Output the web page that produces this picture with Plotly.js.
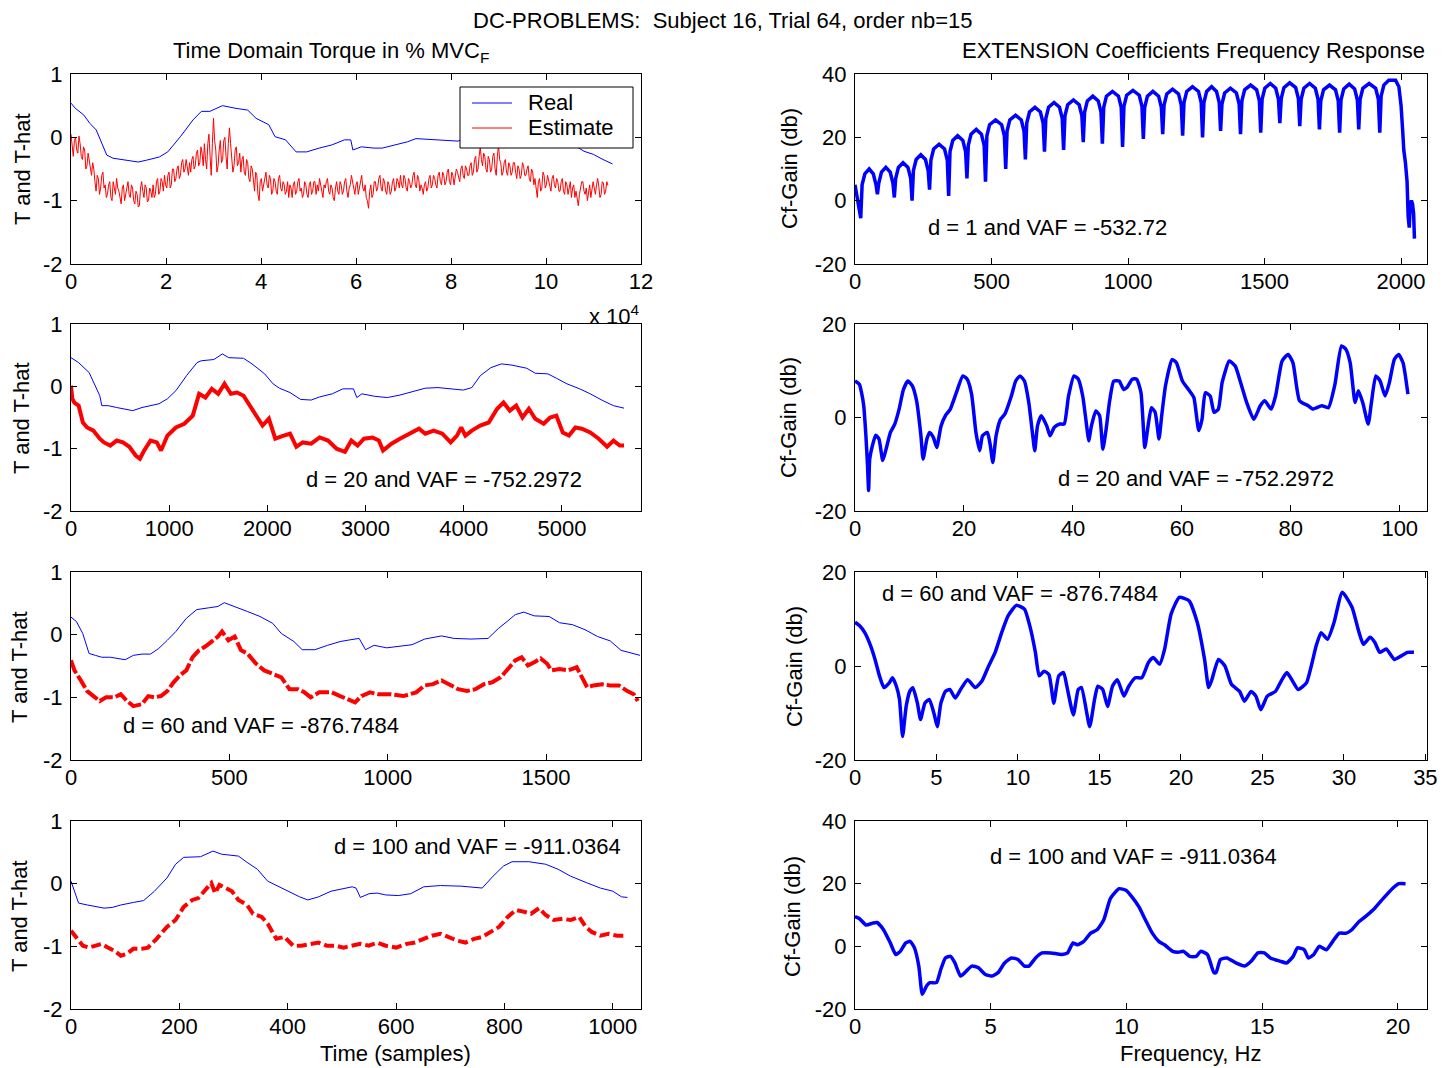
<!DOCTYPE html>
<html>
<head>
<meta charset="utf-8">
<script src="https://cdn.plot.ly/plotly-3.0.1.min.js"></script>
<style>
  html, body { margin: 0; padding: 0; background: #ffffff; }
  #chart { width: 1453px; height: 1068px; }
</style>
</head>
<body>
<div id="chart"></div>
<script>
// ---------------- Time-domain torque (left column) ----------------
// d = 1 : full-rate record
const realX1 = [0,886,2657,3986,5314,6200,7528,8857,11514,14171,15943,18600,20371,23028,25685,27457,29228,31885,34542,37199,38971,41628,42957,45171,47385,49599,52256,54913,57570,58899,59342,61113,63770,65542,68199,70856,72627,75284,78827,81484,82800,84400,86600,88800,90900,94000,95700,98300,100000,102300,104900,106500,108000,110000,112000,114000];
const realY1 = [0.54,0.46,0.355,0.22,0.116,-0.04,-0.28,-0.33,-0.36,-0.39,-0.36,-0.31,-0.23,0.01,0.275,0.41,0.41,0.5,0.46,0.43,0.30,0.2,0.01,-0.04,-0.23,-0.23,-0.17,-0.12,-0.04,-0.04,-0.2,-0.15,-0.17,-0.17,-0.12,-0.07,-0.02,-0.03,-0.04,-0.06,-0.02,0.17,0.30,0.36,0.34,0.29,0.21,0.2,0.13,0.04,-0.04,-0.15,-0.22,-0.27,-0.35,-0.42];
// estimate sampled every 240 samples from 0
const estStep1 = 240;
const estY1 = [
  0.05,-0.15,-0.3,-0.05,0.0,-0.2,-0.25,0.02,-0.1,-0.3,-0.35,
  -0.15,-0.2,-0.5,-0.45,-0.25,-0.35,-0.5,-0.6,-0.4,-0.5,-0.7,
  -0.85,-0.6,-0.65,-0.9,-0.8,-0.6,-0.55,-0.8,-0.75,-0.95,
  -0.9,-0.75,-0.7,-0.95,-1.0,-0.7,-0.8,-0.9,-0.65,-0.8,
  -0.85,-0.95,-1.05,-0.8,-0.75,-1.0,-0.9,-0.75,-0.7,-0.9,
  -0.95,-0.75,-0.8,-1.0,-1.05,-0.85,-0.9,-1.1,-1.08,-0.8,
  -0.7,-0.85,-0.95,-0.75,-0.8,-1.02,-1.0,-0.8,-0.85,-0.95,
  -0.75,-0.95,-0.9,-0.7,-0.65,-0.9,-0.85,-0.65,-0.7,-0.85,
  -0.6,-0.75,-0.8,-0.6,-0.55,-0.8,-0.75,-0.5,-0.5,-0.7,
  -0.65,-0.5,-0.45,-0.65,-0.6,-0.4,-0.35,-0.55,-0.5,-0.35,
  -0.45,-0.6,-0.4,-0.55,-0.35,
  -0.3,-0.5,-0.45,-0.25,-0.2,-0.45,-0.4,-0.15,-0.25,-0.45,
  -0.1,-0.35,-0.5,-0.1,0.05,-0.3,-0.6,-0.1,0.3,-0.05,-0.2,-0.55,
  -0.45,-0.2,-0.05,-0.4,-0.35,-0.05,0.0,-0.3,-0.5,-0.1,
  0.15,-0.1,-0.3,-0.55,-0.45,-0.2,-0.15,-0.45,-0.4,-0.25,
  -0.55,-0.35,-0.3,-0.55,-0.6,-0.35,-0.4,-0.65,-0.7,-0.45,
  -0.5,-0.7,-0.85,-0.55,-0.6,-0.9,-1.0,-0.7,-0.65,-0.85,
  -0.75,-0.6,-0.55,-0.75,-0.8,-0.6,-0.65,-0.9,-0.85,-0.65,
  -0.7,-0.85,-0.9,-0.65,-0.6,-0.8,-0.85,-0.7,-0.75,-0.9,
  -0.85,-0.7,-0.95,-0.75,-0.8,
  -0.95,-0.75,-0.7,-0.9,-0.85,-0.7,-0.65,-0.85,-0.8,-0.95,
  -0.9,-0.7,-0.75,-0.9,-0.95,-0.75,-0.7,-0.9,-0.85,-0.7,
  -0.7,-0.9,-0.75,-0.85,-0.65,
  -0.75,-0.85,-0.95,-0.75,-0.8,-0.7,-0.65,-0.85,-0.9,-0.75,
  -0.8,-0.95,-1.0,-0.8,-0.7,-0.85,-0.9,-0.7,-0.75,-0.9,
  -0.85,-0.7,-0.65,-0.85,-0.95,-0.8,-0.75,-0.6,-0.7,-0.85,
  -0.9,-0.75,-0.7,-0.9,-0.8,-0.65,-0.6,-0.8,-0.85,-0.75,
  -0.95,-1.0,-1.12,-0.85,-0.75,-0.95,-0.9,-0.7,-0.7,-0.85,
  -0.8,-0.65,-0.6,-0.8,-0.85,-0.65,-0.7,-0.85,-0.9,-0.7,
  -0.75,-0.9,-0.85,-0.7,-0.65,-0.85,-0.8,-0.65,-0.7,-0.8,
  -0.6,-0.75,-0.8,-0.6,-0.65,-0.8,-0.85,-0.65,-0.7,-0.8,
  -0.75,-0.6,-0.55,-0.75,-0.8,-0.6,-0.65,-0.85,-0.75,-0.8,
  -0.9,-0.75,-0.7,-0.85,-0.8,-0.65,-0.6,-0.8,-0.75,-0.6,
  -0.65,-0.75,-0.8,-0.6,-0.55,-0.7,-0.75,-0.55,-0.6,-0.75,
  -0.7,-0.55,-0.5,-0.7,-0.75,-0.55,-0.6,-0.75,-0.65,-0.5,
  -0.55,-0.65,-0.7,-0.5,-0.45,-0.6,-0.65,-0.45,-0.5,-0.6,
  -0.6,-0.45,-0.4,-0.6,-0.55,-0.35,-0.3,-0.55,-0.5,-0.3,
  -0.15,-0.35,-0.45,-0.25,-0.3,-0.5,-0.55,-0.3,-0.35,-0.55,
  -0.5,-0.3,-0.25,-0.5,-0.6,-0.3,-0.12,-0.35,-0.4,-0.6,
  -0.55,-0.4,-0.35,-0.55,-0.6,-0.4,-0.45,-0.6,-0.55,-0.4,
  -0.4,-0.55,-0.65,-0.45,-0.5,-0.65,-0.6,-0.4,-0.45,-0.6,
  -0.6,-0.5,-0.45,-0.65,-0.7,-0.5,-0.55,-0.75,-0.65,-0.8,
  -0.95,-0.7,-0.65,-0.85,-0.8,-0.55,-0.6,-0.8,-0.75,-0.6,
  -0.7,-0.8,-0.85,-0.65,-0.6,-0.75,-0.8,-0.65,-0.7,-0.85,
  -0.85,-0.7,-0.65,-0.85,-0.9,-0.7,-0.75,-0.9,-0.8,-0.7,
  -0.95,-0.8,-0.75,-0.95,-0.85,-0.95,-1.08,-0.9,-0.8,-0.7,
  -0.7,-0.85,-0.9,-0.8,-1.0,-0.85,-0.75,-0.95,-0.85,-0.7,
  -0.8,-0.9,-0.75,-0.65,-0.78,-0.95,-0.9,-0.7,-0.72,-0.9,-0.85,-0.7,-0.76];

// d = 20
const realX2 = [0,78,185,293,314,379,465,551,629,723,810,896,982,1068,1176,1283,1326,1455,1542,1606,1757,1843,1972,2058,2123,2231,2338,2446,2532,2661,2769,2876,2911,2963,3092,3221,3350,3479,3608,3738,3867,3996,4082,4168,4276,4384,4491,4642,4728,4857,4943,5051,5180,5288,5417,5525,5632];
const realY2 = [0.46,0.38,0.22,-0.15,-0.31,-0.31,-0.34,-0.36,-0.39,-0.34,-0.31,-0.28,-0.2,-0.07,0.17,0.38,0.41,0.43,0.52,0.46,0.45,0.36,0.2,0.04,-0.03,-0.1,-0.21,-0.22,-0.17,-0.12,-0.04,-0.04,-0.18,-0.12,-0.16,-0.18,-0.14,-0.09,-0.03,-0.02,-0.04,-0.06,-0.02,0.17,0.30,0.36,0.34,0.29,0.21,0.2,0.13,0.04,-0.04,-0.12,-0.23,-0.31,-0.35];
const estX2 = [0,13,34,78,121,164,228,293,336,400,465,529,594,659,702,745,810,874,917,982,1068,1154,1240,1305,1369,1434,1499,1563,1628,1692,1757,1821,1886,1951,2015,2080,2166,2231,2295,2360,2446,2532,2618,2704,2790,2855,2919,2984,3070,3135,3178,3264,3350,3458,3544,3608,3694,3781,3867,3931,3974,4017,4082,4168,4254,4340,4405,4469,4534,4598,4663,4728,4814,4879,4943,5008,5072,5137,5202,5288,5374,5460,5525,5589,5632];
const estY2 = [0.01,-0.2,-0.26,-0.31,-0.58,-0.66,-0.71,-0.84,-0.9,-0.95,-0.87,-0.9,-0.97,-1.11,-1.16,-1.03,-0.87,-0.9,-1.03,-0.79,-0.66,-0.6,-0.47,-0.12,-0.18,-0.04,-0.12,0.04,-0.12,-0.1,-0.15,-0.31,-0.47,-0.63,-0.52,-0.84,-0.79,-0.76,-0.97,-0.9,-0.92,-0.82,-0.87,-1.0,-1.05,-0.87,-0.95,-0.84,-0.82,-0.87,-1.03,-0.92,-0.84,-0.76,-0.68,-0.76,-0.71,-0.76,-0.9,-0.79,-0.66,-0.79,-0.71,-0.63,-0.58,-0.36,-0.26,-0.39,-0.31,-0.5,-0.36,-0.52,-0.6,-0.5,-0.47,-0.74,-0.79,-0.66,-0.68,-0.74,-0.84,-0.97,-0.87,-0.95,-0.95];

// d = 60
const realX3 = [0,17,37,57,77,97,124,151,171,197,224,251,277,304,331,364,397,437,464,484,517,557,597,637,664,704,730,770,810,850,884,910,930,957,997,1037,1077,1117,1170,1210,1263,1317,1350,1377,1403,1430,1463,1510,1543,1583,1623,1663,1703,1737,1770,1797];
const realY3 = [0.28,0.21,0.02,-0.3,-0.33,-0.36,-0.36,-0.38,-0.4,-0.33,-0.31,-0.31,-0.22,-0.09,0.05,0.26,0.4,0.43,0.45,0.51,0.45,0.37,0.29,0.18,0.02,-0.11,-0.24,-0.24,-0.17,-0.11,-0.08,-0.06,-0.24,-0.17,-0.21,-0.18,-0.16,-0.07,-0.02,-0.06,-0.07,-0.06,0.1,0.21,0.32,0.36,0.3,0.29,0.19,0.16,0.08,-0.03,-0.1,-0.25,-0.3,-0.33];
const estX3 = [0,11,31,51,71,91,111,137,157,177,197,224,244,264,284,304,324,344,364,384,404,424,444,464,477,497,517,537,557,584,610,637,664,690,717,737,757,784,824,850,877,897,917,944,970,1010,1050,1090,1117,1143,1170,1197,1223,1250,1277,1304,1330,1357,1383,1403,1423,1443,1463,1483,1503,1517,1543,1570,1597,1610,1630,1650,1677,1703,1730,1757,1777,1790];
const estY3 = [-0.41,-0.57,-0.73,-0.9,-0.98,-1.06,-1.0,-1.0,-0.95,-1.06,-1.14,-1.11,-0.98,-1.0,-0.98,-0.9,-0.76,-0.65,-0.57,-0.36,-0.25,-0.19,-0.11,-0.03,0.05,-0.09,-0.03,-0.25,-0.3,-0.46,-0.57,-0.63,-0.68,-0.87,-0.87,-0.92,-1.0,-0.92,-0.92,-0.98,-1.03,-1.08,-0.98,-0.92,-0.95,-0.95,-0.98,-0.92,-0.81,-0.79,-0.73,-0.81,-0.87,-0.9,-0.87,-0.79,-0.76,-0.68,-0.52,-0.41,-0.36,-0.49,-0.44,-0.38,-0.46,-0.57,-0.55,-0.57,-0.52,-0.65,-0.84,-0.81,-0.79,-0.81,-0.81,-0.9,-0.95,-1.06];

// d = 100
const realX4 = [0,6,14,30,45,61,76,92,115,134,154,177,193,208,239,262,278,309,325,344,363,379,402,422,437,457,480,499,519,526,534,550,565,581,604,627,651,682,720,759,779,798,814,845,876,899,922,953,977,1000,1016,1027];
const realY4 = [0.04,-0.12,-0.31,-0.34,-0.37,-0.39,-0.38,-0.34,-0.3,-0.27,-0.12,0.09,0.31,0.42,0.43,0.52,0.47,0.44,0.34,0.23,0.04,-0.03,-0.12,-0.21,-0.26,-0.21,-0.12,-0.08,-0.05,-0.07,-0.22,-0.16,-0.15,-0.18,-0.19,-0.16,-0.05,-0.03,-0.04,-0.07,0.12,0.28,0.35,0.35,0.31,0.23,0.12,0.01,-0.07,-0.12,-0.21,-0.22];
const estX4 = [0,10,22,33,45,57,68,80,92,103,115,130,142,158,177,193,208,224,235,247,259,266,274,286,297,309,325,336,352,363,379,394,410,425,441,457,472,488,503,519,534,550,565,581,600,620,635,651,666,682,697,713,728,744,759,775,790,806,821,837,849,864,876,891,907,922,938,950,961,977,992,1008,1023];
const estY4 = [-0.75,-0.85,-0.99,-1.02,-0.99,-0.96,-1.02,-1.07,-1.15,-1.12,-1.04,-1.04,-1.02,-0.88,-0.69,-0.58,-0.37,-0.26,-0.23,-0.1,0.01,-0.15,-0.02,-0.07,-0.12,-0.26,-0.34,-0.48,-0.53,-0.64,-0.88,-0.85,-0.99,-0.99,-0.96,-0.94,-0.99,-0.99,-1.02,-0.99,-0.96,-0.99,-0.94,-0.99,-1.02,-0.96,-0.94,-0.88,-0.83,-0.8,-0.85,-0.91,-0.94,-0.88,-0.85,-0.77,-0.69,-0.53,-0.42,-0.45,-0.48,-0.39,-0.5,-0.58,-0.56,-0.58,-0.53,-0.69,-0.77,-0.83,-0.8,-0.83,-0.83];

// ---------------- Coefficient frequency responses (right column) ----------------
const freq5 = [0,5,10,16,21, 26,36,52,67,77,82, 87,97,113,129,139,144, 149,159,176,194,204,209, 214,224,241,258,268,273, 278,288,308,328,338,343, 348,358,376,395,405,410, 415,425,444,463,473,478, 483,493,515,537,547,552, 557,567,588,609,619,624, 629,639,659,679,689,694, 699,709,729,749,759,764, 769,779,800,821,831,836, 841,851,871,891,901,906, 911,921,943,965,975,980, 985,995,1018,1041,1051,1056, 1061,1071,1091,1112,1122,1127, 1132,1142,1163,1185,1195,1200, 1205,1215,1236,1258,1268,1273, 1278,1288,1306,1324,1334,1339, 1344,1354,1375,1397,1407,1412, 1417,1427,1449,1471,1481,1486, 1491,1501,1521,1541,1551,1556, 1561,1571,1592,1614,1624,1629, 1634,1644,1665,1686,1696,1701, 1706,1716,1738,1760,1770,1775, 1780,1790,1810,1830,1840,1845, 1850,1860,1883,1907,1917,1922, 1927,1937,1955,1980,1992,2000,2006,2010,2016,2022,2026,2030,2034,2038,2042,2046,2049];
const gain5 = [5,2.5,0.5,-3,-5.5, 5,8.5,10,8.5,5,2, 5.5,9,10.5,9,5.5,1, 7,10.5,12,10.5,7,0, 9.5,13,14.5,13,9.5,3.5, 12.8,16.3,17.8,16.3,12.8,1.5, 15.5,19,20.5,19,15.5,7, 17.5,21,22.5,21,17.5,6, 20.5,24,25.5,24,20.5,10, 22,25.5,27,25.5,22,13, 24.5,28,29.5,28,24.5,15.5, 26,29.5,31,29.5,26,16, 26.8,30.3,31.8,30.3,26.8,18.5, 28,31.5,33,31.5,28,18, 29.5,33,34.5,33,29.5,17, 29.8,33.3,34.8,33.3,29.8,19.5, 29.5,33,34.5,33,29.5,21, 30.2,33.7,35.2,33.7,30.2,20.5, 31,34.5,36,34.5,31,20, 31,34.5,36,34.5,31,22, 30.5,34,35.5,34,30.5,21, 31.5,35,36.5,35,31.5,21.5, 32,35.5,37,35.5,32,24.5, 32.2,35.7,37.2,35.7,32.2,23.5, 32,35.5,37,35.5,32,22.5, 31.5,35,36.5,35,31.5,21.5, 31.8,35.3,36.8,35.3,31.8,22.5, 32,35.5,37,35.5,32,21.5, 33,36.5,38,38,36,30,22,16,12,6,-5,-8.5,-1,0,-1,-4,-12];

const freq6 = [0,0.8,1.2,1.6,2.0,2.3,2.5,2.7,3.2,3.8,4.4,5.1,5.7,6.5,7.3,8.1,8.9,9.7,10.5,11.3,12.1,12.5,13.2,13.7,14.4,15,15.8,16.6,17.5,18.6,19.8,20.6,21.4,22.2,22.9,23.4,24.3,24.8,25.3,25.9,26.7,27.5,28.7,29.5,30.3,31.1,31.9,32.6,33,33.5,34.2,35.2,35.8,36.6,37.6,38.4,39.2,40.2,41,41.8,42.6,42.9,43.4,44.2,44.9,45.5,46.1,46.7,47.5,48.5,49.3,49.9,50.9,51.7,52.5,53.2,53.8,54.4,55.1,55.8,56.3,57,58.2,59,60.1,61.4,62.2,63.1,63.7,64.3,65.2,65.9,66.7,67.4,68.7,69.8,70.7,71.9,73.2,74.4,75.2,76.4,77.2,78.4,79.5,80.4,81.6,83.2,84,85.7,86.9,88.1,89.3,90.1,90.9,91.8,92.4,93.2,94.2,94.8,95.6,96.4,97.3,98.1,99,99.8,100.6,101.5];
const gain6 = [7.8,7.1,5.3,2.5,-3.9,-10.3,-15.6,-8.9,-6,-3.8,-4.6,-9.2,-6.8,-3.2,-1.4,1.8,6,7.8,6.8,3.6,-3.9,-8.9,-4.6,-3.2,-4.3,-6.4,-1.8,0.4,1.8,5.3,8.9,8.2,5,-3.2,-7.1,-3.9,-3.2,-5.7,-9.6,-3.9,-0.4,0.7,4.6,7.8,8.9,7.8,3.2,-3.6,-7.1,-1.8,0.4,-1.8,-3.9,-2.1,-1.4,-1.4,4.6,8.9,8.2,4.6,-2.5,-5,-1.8,1.4,0.4,-6.8,-2.5,3.2,7.8,7.8,6,6.4,8.2,8.2,5.3,-6.4,-1.8,2.1,1.1,-4.6,0.4,6.8,12.4,11.7,7.8,5.7,4.3,-2.8,-0.4,5.3,4.6,1.1,1.8,7.5,12.1,11,7.8,3.2,-0.4,2.5,3.6,1.8,4.6,12.1,13.5,11.7,3.6,2.5,1.8,2.5,2.1,7.1,15.3,14.6,11.7,3.2,5.7,3.2,-1.4,3.2,8.9,7.8,4.6,7.5,12.4,13.5,11.7,5];

const freq7 = [0,0.27,0.6,0.96,1.23,1.5,1.78,2.1,2.3,2.54,2.73,2.92,3.14,3.36,3.55,3.83,4.02,4.29,4.56,4.84,5.05,5.27,5.55,5.82,6.15,6.48,6.91,7.38,7.79,8.2,8.6,9.0,9.4,9.9,10.4,10.7,11.07,11.3,11.6,11.9,12.2,12.5,12.8,13.0,13.4,13.7,13.9,14.4,14.7,14.9,15.2,15.5,15.8,16.1,16.5,16.8,17.2,17.6,18,18.3,18.7,19,19.4,19.9,20.5,21.0,21.45,21.7,21.9,22.3,22.7,23.1,23.6,23.9,24.3,24.6,24.9,25.3,25.8,26.2,26.5,26.8,27.2,27.7,28.3,28.6,29.0,29.4,29.9,30.5,30.9,31.2,31.6,31.9,32.2,32.6,33.1,33.5,33.9,34.3];
const gain7 = [9.3,8.6,7.1,4.3,1.4,-2.1,-4.6,-3.6,-2.5,-4.3,-7.1,-15,-8.6,-5.4,-4.6,-7.9,-11.4,-7.9,-7.1,-10,-12.9,-7.9,-5.4,-5,-6.8,-5,-2.9,-4.6,-3.2,0,2.9,7.1,10.7,12.9,12.1,8.9,2.9,-2.1,-1.1,-1.8,-7.9,-2.1,-1.4,-4.3,-10.4,-5,-4.6,-12.9,-7.1,-4.3,-5,-8.6,-4.3,-2.9,-6.4,-4.3,-2.5,-2.5,0.7,1.8,0.4,3.6,11.1,14.6,13.9,9.3,1.4,-4.6,-2.9,1.4,0,-3.9,-5.4,-7.5,-5.4,-6.4,-9.3,-6.4,-5.4,-2.9,-1.4,-2.9,-5,-3.6,4.3,7.1,5.7,9.3,15.7,12.5,7.5,4.6,6.1,5,2.9,3.6,1.4,2.1,2.9,2.9];

const freq8 = [0,0.16,0.41,0.65,0.81,1.05,1.3,1.5,1.67,1.87,2.03,2.19,2.35,2.48,2.64,2.76,3.0,3.16,3.33,3.52,3.68,3.89,4.1,4.3,4.54,4.79,5.03,5.27,5.51,5.76,6.0,6.24,6.41,6.65,6.89,7.22,7.62,7.83,8.03,8.19,8.43,8.68,8.92,9.16,9.41,9.73,9.98,10.2,10.46,10.7,10.95,11.19,11.4,11.7,11.9,12.1,12.33,12.57,12.73,12.98,13.22,13.3,13.46,13.7,14.03,14.35,14.6,14.84,15.08,15.3,15.65,15.9,16.14,16.3,16.55,16.7,16.9,17.1,17.36,17.6,17.84,18.1,18.3,18.57,18.8,19.14,19.46,19.79,20.03,20.28];
const gain8 = [9.5,8.9,6.8,7.4,7.6,5.3,1.1,-2.6,-1.6,1.1,1.6,-0.5,-6.3,-15.3,-12.6,-11.6,-11.6,-7.4,-3.7,-3.2,-5.3,-9.5,-7.9,-6.3,-6.8,-8.9,-9.5,-8.4,-5.3,-3.7,-4.2,-6.3,-6.3,-3.7,-2.1,-2.1,-2.6,-2.1,1.1,0.5,1.6,4.2,5.3,8.4,15.3,18.4,17.9,15.8,12.6,8.4,4.2,1.6,0.5,-1.6,-1.9,-1.6,-3.2,-3.2,-1.6,-2.6,-8.4,-8.4,-4.2,-3.7,-5.3,-6.3,-4.7,-2.1,-2.1,-3.7,-4.7,-5.3,-3.2,-0.5,-1.1,-3.7,-2.6,0,-1.1,1.6,4.2,4.2,5.3,7.9,9.5,12.1,15.3,18.4,20,20];

// ---------------- Tick marks and labels ----------------
const torqueTicks = [-2, -1, 0, 1];
const torqueLabels = ["-2", "-1", "0", "1"];
const xTicks1 = [0, 20000, 40000, 60000, 80000, 100000, 120000];
const xLabels1 = ["0", "2", "4", "6", "8", "10", "12"];
const xTicks2 = [0, 1000, 2000, 3000, 4000, 5000];
const xLabels2 = ["0", "1000", "2000", "3000", "4000", "5000"];
const xTicks3 = [0, 500, 1000, 1500];
const xLabels3 = ["0", "500", "1000", "1500"];
const xTicks4 = [0, 200, 400, 600, 800, 1000];
const xLabels4 = ["0", "200", "400", "600", "800", "1000"];
const fTicks5 = [0, 500, 1000, 1500, 2000];
const fLabels5 = ["0", "500", "1000", "1500", "2000"];
const fTicks6 = [0, 20, 40, 60, 80, 100];
const fLabels6 = ["0", "20", "40", "60", "80", "100"];
const fTicks7 = [0, 5, 10, 15, 20, 25, 30, 35];
const fLabels7 = ["0", "5", "10", "15", "20", "25", "30", "35"];
const fTicks8 = [0, 5, 10, 15, 20];
const fLabels8 = ["0", "5", "10", "15", "20"];
const gTicks40 = [-20, 0, 20, 40];
const gLabels40 = ["-20", "0", "20", "40"];
const gTicks20 = [-20, 0, 20];
const gLabels20 = ["-20", "0", "20"];

// ---------------- Figure geometry ----------------
const W = 1453, H = 1068;
const FONT = "'Liberation Sans', Arial, Helvetica, sans-serif";
const FS = 22;
const px = x => x / W;
const py = y => 1 - y / H;

const colL = [px(71), px(641)];
const colR = [px(855), px(1427)];
const rows = [[py(264), py(74)], [py(511), py(324)], [py(760), py(572)], [py(1009), py(821)]];

function baseAxis(domain, anchor, range, vals, text) {
  return {
    domain: domain, anchor: anchor, range: range,
    tickmode: 'array', tickvals: vals, ticktext: text,
    showline: true, linecolor: '#000', linewidth: 1, mirror: 'ticks',
    ticks: 'inside', ticklen: 6, tickwidth: 1, tickcolor: '#000',
    showgrid: false, zeroline: false,
    tickfont: { family: FONT, size: FS, color: '#000' }, fixedrange: true
  };
}
function axisX(domain, anchor, range, vals, text) {
  const a = baseAxis(domain, anchor, range, vals, text);
  a.ticklabelstandoff = -2;
  return a;
}
function axisY(domain, anchor, range, vals, text) {
  const a = baseAxis(domain, anchor, range, vals, text);
  a.ticklabelstandoff = 3;
  return a;
}

const BLUE = '#0000ff', RED = '#ff0000';
const smooth = { color: BLUE, width: 3.5, shape: 'spline', smoothing: 0.5 };

const realTrace = { x: realX1, y: realY1, xaxis: 'x', yaxis: 'y', mode: 'lines', name: 'Real',
  line: { color: BLUE, width: 1 }, showlegend: false };
const estTrace = { x0: 0, dx: estStep1, y: estY1, xaxis: 'x', yaxis: 'y', mode: 'lines', name: 'Estimate',
  line: { color: RED, width: 1 }, showlegend: false };

const traces = [
  realTrace, estTrace,

  { x: realX2, y: realY2, xaxis: 'x2', yaxis: 'y2', mode: 'lines', line: { color: BLUE, width: 1 }, showlegend: false },
  { x: estX2, y: estY2, xaxis: 'x2', yaxis: 'y2', mode: 'lines', line: { color: RED, width: 4 }, showlegend: false },

  { x: realX3, y: realY3, xaxis: 'x3', yaxis: 'y3', mode: 'lines', line: { color: BLUE, width: 1 }, showlegend: false },
  { x: estX3, y: estY3, xaxis: 'x3', yaxis: 'y3', mode: 'lines', line: { color: RED, width: 4, dash: '14px,3px' }, showlegend: false },

  { x: realX4, y: realY4, xaxis: 'x4', yaxis: 'y4', mode: 'lines', line: { color: BLUE, width: 1 }, showlegend: false },
  { x: estX4, y: estY4, xaxis: 'x4', yaxis: 'y4', mode: 'lines', line: { color: RED, width: 4, dash: '10px,4px' }, showlegend: false },

  { x: freq5, y: gain5, xaxis: 'x5', yaxis: 'y5', mode: 'lines', line: { color: BLUE, width: 3.5 }, showlegend: false },
  { x: freq6, y: gain6, xaxis: 'x6', yaxis: 'y6', mode: 'lines', line: smooth, showlegend: false },
  { x: freq7, y: gain7, xaxis: 'x7', yaxis: 'y7', mode: 'lines', line: smooth, showlegend: false },
  { x: freq8, y: gain8, xaxis: 'x8', yaxis: 'y8', mode: 'lines', line: smooth, showlegend: false }
];

function note(text, x, y, extra) {
  return Object.assign({
    text: text, xref: 'paper', yref: 'paper', x: px(x), y: py(y),
    xanchor: 'center', yanchor: 'middle', showarrow: false,
    font: { family: FONT, size: FS, color: '#000' }
  }, extra || {});
}
function sideLabel(text, x, y) {
  return note(text, x, y, { textangle: -90 });
}

// Boxed key in the top-left panel (MATLAB-style legend)
const legendBox = { x0: 460, y0: 87, x1: 633, y1: 148 };
const legendRows = [
  { trace: realTrace, y: 103 },
  { trace: estTrace, y: 128 }
];
const shapes = [
  { type: 'rect', xref: 'paper', yref: 'paper', layer: 'above',
    x0: px(legendBox.x0), x1: px(legendBox.x1), y0: py(legendBox.y1), y1: py(legendBox.y0),
    fillcolor: '#ffffff', line: { color: '#000', width: 1 } }
];
legendRows.forEach(r => {
  shapes.push({ type: 'line', xref: 'paper', yref: 'paper', layer: 'above',
    x0: px(472), x1: px(512), y0: py(r.y), y1: py(r.y),
    line: { color: r.trace.line.color, width: r.trace.line.width } });
});

const annotations = [
  note('DC-PROBLEMS:\u00a0 Subject 16, Trial 64, order nb=15', 723, 20),
  note('Time Domain Torque in % MVC<sub>F</sub>', 331, 52),
  note('EXTENSION Coefficients Frequency Response', 1193, 50),
  note('x 10<sup>4</sup>', 614, 331, { yanchor: 'bottom' }),

  sideLabel('T and T-hat', 22, 169),
  sideLabel('T and T-hat', 22, 418),
  sideLabel('T and T-hat', 19, 667),
  sideLabel('T and T-hat', 19, 916),
  sideLabel('Cf-Gain (db)', 789, 169),
  sideLabel('Cf-Gain (db)', 789, 418),
  sideLabel('Cf-Gain (db)', 794, 667),
  sideLabel('Cf-Gain (db)', 792, 916),

  note('Time (samples)', 396, 1053),
  note('Frequency, Hz', 1190, 1053),

  note('d = 20 and VAF = -752.2972', 444, 479),
  note('d = 60 and VAF = -876.7484', 261, 725),
  note('d = 100 and VAF = -911.0364', 477, 846),
  note('d = 1 and VAF = -532.72', 1047, 228),
  note('d = 20 and VAF = -752.2972', 1196, 478),
  note('d = 60 and VAF = -876.7484', 1020, 593),
  note('d = 100 and VAF = -911.0364', 1133, 856)
];
legendRows.forEach(r => annotations.push(note(r.trace.name, 526, r.y, { xanchor: 'left' })));

const layout = {
  width: W, height: H,
  margin: { l: 0, r: 0, t: 0, b: 0, pad: 0 },
  paper_bgcolor: '#ffffff', plot_bgcolor: '#ffffff',
  font: { family: FONT, size: FS, color: '#000' },
  showlegend: false,
  xaxis:  axisX(colL, 'y',  [0, 120000], xTicks1, xLabels1),
  yaxis:  axisY(rows[0], 'x',  [-2, 1], torqueTicks, torqueLabels),
  xaxis2: axisX(colL, 'y2', [0, 5805], xTicks2, xLabels2),
  yaxis2: axisY(rows[1], 'x2', [-2, 1], torqueTicks, torqueLabels),
  xaxis3: axisX(colL, 'y3', [0, 1800], xTicks3, xLabels3),
  yaxis3: axisY(rows[2], 'x3', [-2, 1], torqueTicks, torqueLabels),
  xaxis4: axisX(colL, 'y4', [0, 1052], xTicks4, xLabels4),
  yaxis4: axisY(rows[3], 'x4', [-2, 1], torqueTicks, torqueLabels),
  xaxis5: axisX(colR, 'y5', [0, 2095], fTicks5, fLabels5),
  yaxis5: axisY(rows[0], 'x5', [-20, 40], gTicks40, gLabels40),
  xaxis6: axisX(colR, 'y6', [0, 105], fTicks6, fLabels6),
  yaxis6: axisY(rows[1], 'x6', [-20, 20], gTicks20, gLabels20),
  xaxis7: axisX(colR, 'y7', [0, 35.1], fTicks7, fLabels7),
  yaxis7: axisY(rows[2], 'x7', [-20, 20], gTicks20, gLabels20),
  xaxis8: axisX(colR, 'y8', [0, 21.07], fTicks8, fLabels8),
  yaxis8: axisY(rows[3], 'x8', [-20, 40], gTicks40, gLabels40),
  shapes: shapes,
  annotations: annotations
};

Plotly.newPlot('chart', traces, layout, { staticPlot: true, displayModeBar: false });
</script>
</body>
</html>
